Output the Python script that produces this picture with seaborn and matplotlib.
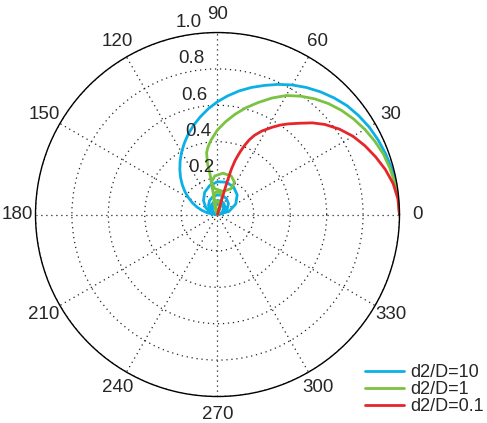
import numpy as np
import pandas as pd
import matplotlib
matplotlib.use("Agg")
import matplotlib.pyplot as plt
import seaborn as sns

# ---------------------------------------------
# curves: angle (deg), radius
# ---------------------------------------------
# d2/D = 10 : main lobe then the small lobes at the origin
blue_theta = [0, 5, 10, 15, 20, 25, 30, 35, 40, 45, 50, 55, 60, 65, 70, 75, 80, 85, 90,
              95, 100, 105, 110, 115, 120, 125, 130, 135, 140, 145, 150, 155, 160, 165,
              170, 175, 180,
              0, 15, 30, 45, 60, 75, 90, 105, 120, 135, 150, 165, 180,
              0, 15, 30, 45, 60, 75, 90, 105, 120, 135, 150, 165, 180,
              0, 15, 30, 45, 60, 75, 90, 105, 120, 135, 150, 165, 180,
              0, 15, 30, 45, 60, 75, 90, 105, 120, 135, 150, 165, 180]
blue_r = [1.0, 0.999, 0.996, 0.99, 0.982, 0.973, 0.962, 0.947, 0.93, 0.906, 0.88, 0.852,
          0.822, 0.789, 0.755, 0.723, 0.69, 0.655, 0.62, 0.583, 0.545, 0.508, 0.47, 0.432,
          0.395, 0.358, 0.322, 0.287, 0.252, 0.218, 0.184, 0.152, 0.12, 0.089, 0.058,
          0.029, 0.0,
          0.0, 0.065, 0.116, 0.153, 0.176, 0.184, 0.18, 0.165, 0.141, 0.109, 0.074, 0.037, 0.0,
          0.0, 0.034, 0.062, 0.085, 0.1, 0.108, 0.108, 0.101, 0.088, 0.07, 0.048, 0.024, 0.0,
          0.0, 0.023, 0.043, 0.059, 0.07, 0.077, 0.077, 0.073, 0.064, 0.051, 0.035, 0.018, 0.0,
          0.0, 0.017, 0.032, 0.045, 0.054, 0.059, 0.06, 0.057, 0.05, 0.04, 0.028, 0.014, 0.0]

# d2/D = 1 : main lobe, small ring, petals
green_theta = [0, 5, 10, 15, 20, 25, 30, 35, 40, 45, 50, 55, 60, 65, 70, 75, 80, 85, 90,
               95, 98, 100, 101.1, 100.6, 100.5, 100.9,
               96.0, 76.7, 62.2, 62.0, 70.5, 82.5, 94.0, 100.9, 101.3, 101.3, 101.3,
               73.3, 73.3, 76.0, 84.4, 94.7, 102.4, 106.7, 108,
               71.1, 71.1, 76.9, 90, 103.1, 108.9, 110]
green_r = [1.0, 0.997, 0.99, 0.981, 0.97, 0.954, 0.935, 0.914, 0.89, 0.862, 0.83, 0.794,
           0.755, 0.706, 0.655, 0.608, 0.56, 0.512, 0.465, 0.41, 0.375, 0.345, 0.285,
           0.244, 0.2085, 0.18,
           0.143, 0.1305, 0.1606, 0.2004, 0.225, 0.229, 0.2125, 0.18, 0.1326, 0.0714, 0.0,
           0.0, 0.0626, 0.103, 0.1236, 0.1224, 0.1024, 0.0626, 0.0,
           0.0, 0.037, 0.0616, 0.075, 0.0616, 0.037, 0.0]

# d2/D = 0.1
red_theta = [0, 5, 10, 15, 20, 25, 30, 35, 40, 44, 48, 52, 55, 58, 62, 65, 67, 68.5, 70, 71,
             72, 73, 73.5, 74, 74, 74]
red_r = [1.0, 0.995, 0.98, 0.955, 0.925, 0.894, 0.86, 0.818, 0.77, 0.725, 0.675, 0.632, 0.60,
         0.565, 0.52, 0.48, 0.445, 0.41, 0.37, 0.34, 0.31, 0.26, 0.2, 0.13, 0.06, 0.0]

labels = ["d2/D=10", "d2/D=1", "d2/D=0.1"]
colors = ["#0bb0e6", "#7cc242", "#e5262b"]

theta_ticks = [0, 30, 60, 90, 120, 150, 180, 210, 240, 270, 300, 330]
theta_labels = ["0", "30", "60", "90", "120", "150", "180", "210", "240", "270", "300", "330"]
r_ticks = [0.2, 0.4, 0.6, 0.8, 1.0]
r_labels = ["0.2", "0.4", "0.6", "0.8", "1.0"]

# ---------------------------------------------
# long table for seaborn
# ---------------------------------------------
frames = []
for lab, th, rr in zip(labels, [blue_theta, green_theta, red_theta], [blue_r, green_r, red_r]):
    frames.append(pd.DataFrame({"theta": np.deg2rad(th), "r": rr, "curve": lab}))
df = pd.concat(frames, ignore_index=True)

sns.set_style("white")
plt.rcParams["font.family"] = ["Liberation Sans", "DejaVu Sans"]

fig = plt.figure(figsize=(4.87, 4.23), dpi=100)
ax = fig.add_axes([0.0729, 0.0626, 0.7474, 0.8605], projection="polar")

sns.lineplot(data=df, x="theta", y="r", hue="curve", hue_order=labels,
             palette=dict(zip(labels, colors)), sort=False, estimator=None,
             linewidth=2.0, ax=ax)

ax.set_ylim(0, 1)
ax.set_xticks(np.deg2rad(theta_ticks))
ax.set_xticklabels([])
ax.set_yticks(r_ticks)
ax.set_yticklabels([])
ax.set_xlabel("")
ax.set_ylabel("")
ax.grid(True, color="#222222", linestyle=(0, (1, 3)), linewidth=0.9)
ax.spines["polar"].set_color("black")
ax.spines["polar"].set_linewidth(1.0)
ax.tick_params(length=0)

for deg, lab in zip(theta_ticks, theta_labels):
    ax.text(np.deg2rad(deg), 1.1, lab, ha="center", va="center",
            fontsize=13.5, clip_on=False)
for rv, lab in zip(r_ticks, r_labels):
    ax.text(np.deg2rad(95), rv + 0.012, lab, ha="right", va="bottom",
            fontsize=13.5, clip_on=False)

sns.move_legend(ax, "lower left", bbox_to_anchor=(0.749, 0.018),
                bbox_transform=fig.transFigure, frameon=False, title=None,
                fontsize=13, handlelength=2.2, handletextpad=0.3,
                labelspacing=0.0, borderpad=0, borderaxespad=0)

fig.savefig("out.png", dpi=100)
